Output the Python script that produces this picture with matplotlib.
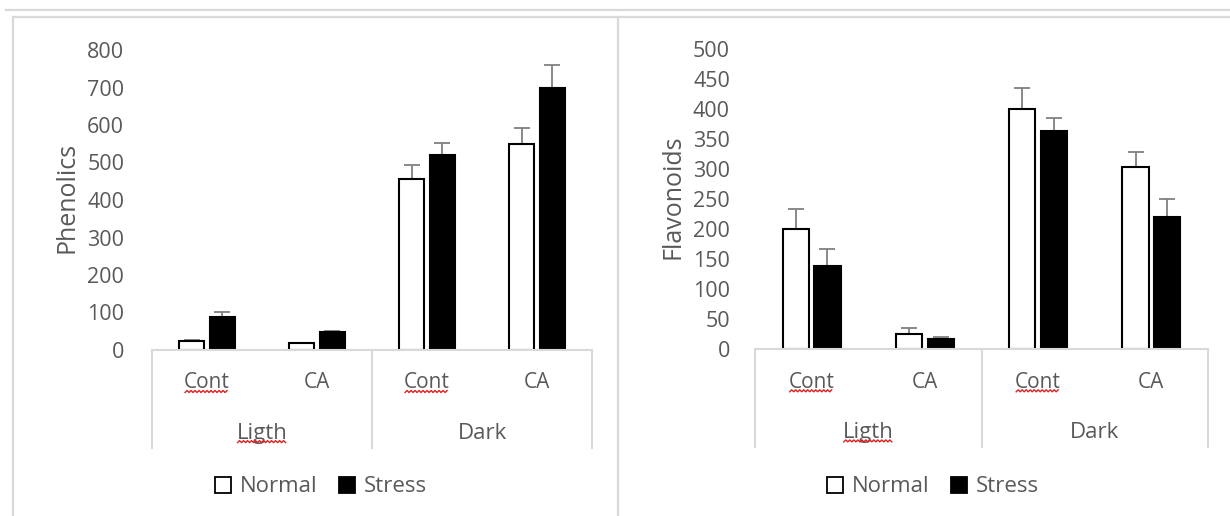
import numpy as np
import matplotlib
matplotlib.use("Agg")
import matplotlib.pyplot as plt
from matplotlib.lines import Line2D
from matplotlib.patches import Patch

# ---------- 数据 ----------
categories = ["Cont", "CA", "Cont", "CA"]
groups = ["Ligth", "Dark"]
series = ["Normal", "Stress"]

phen_normal = [24, 18, 455, 550]
phen_stress = [89, 47, 520, 698]
phen_normal_err = [3, 2, 38, 43]
phen_stress_err = [13, 4, 33, 62]

flav_normal = [201, 26, 400, 304]
flav_stress = [139, 18, 364, 221]
flav_normal_err = [33, 10, 35, 25]
flav_stress_err = [28, 3, 22, 29]

# ---------- 样式 ----------
W, H = 1230, 516
TXT = "#595959"
GRID = "#d9d9d9"
ERR = "#808080"
FS = 15
plt.rcParams["font.family"] = ["Open Sans", "DejaVu Sans"]

fig = plt.figure(figsize=(W / 100, H / 100), dpi=100)


def px(x0, y0, x1, y1):
    """像素坐标 -> figure 坐标 [left, bottom, width, height]"""
    return [x0 / W, 1 - y1 / H, (x1 - x0) / W, (y1 - y0) / H]


def draw_chart(rect, normal, stress, nerr, serr, ymax, ystep, ylabel, ylab_x, pad, box_depth):
    ax = fig.add_axes(rect)
    x = np.arange(len(categories))
    off, bw = 0.14, 0.23
    ax.errorbar(x - off, normal, yerr=[np.zeros(len(x)), nerr], fmt="none",
                ecolor=ERR, elinewidth=1.3, capsize=6, capthick=1.3, zorder=1)
    ax.errorbar(x + off, stress, yerr=[np.zeros(len(x)), serr], fmt="none",
                ecolor=ERR, elinewidth=1.3, capsize=6, capthick=1.3, zorder=1)
    ax.bar(x - off, normal, bw, color="white", edgecolor="black", linewidth=1.5, zorder=2)
    ax.bar(x + off, stress, bw, color="black", edgecolor="black", linewidth=1.5, zorder=2)

    ax.set_xlim(-0.5, len(x) - 0.5)
    ax.set_ylim(0, ymax)
    ax.set_yticks(np.arange(0, ymax + 1, ystep))
    ax.tick_params(axis="y", length=0, pad=pad, labelsize=FS + 0.5, labelcolor=TXT)
    ax.set_xticks([])
    for s in ["top", "right", "left"]:
        ax.spines[s].set_visible(False)
    ax.spines["bottom"].set_color(GRID)
    ax.spines["bottom"].set_linewidth(1.5)

    # 多级分类轴
    for xv in [0, 0.5, 1]:
        ax.plot([xv, xv], [0, -box_depth], color=GRID, lw=1.5,
                transform=ax.transAxes, clip_on=False)
    tr = ax.get_xaxis_transform()
    under = []
    for i, c in enumerate(categories):
        t = ax.text(i, -0.11, c, ha="center", va="center", fontsize=FS, color=TXT, transform=tr)
        if c == "Cont":
            under.append(t)
    for j, g in enumerate(groups):
        t = ax.text(2 * j + 0.5, -0.277, g, ha="center", va="center", fontsize=FS + 1,
                    color=TXT, transform=tr)
        if g == "Ligth":
            under.append(t)
    ax.text(ylab_x, 0.51, ylabel, rotation=90, ha="center", va="center",
            fontsize=18, color=TXT, transform=ax.transAxes)
    return ax, under


ax1, u1 = draw_chart(px(152, 50, 592, 350), phen_normal, phen_stress, phen_normal_err,
                     phen_stress_err, 800, 100, "Phenolics", -0.193, 20, 0.327)
ax2, u2 = draw_chart(px(755, 49.3, 1208, 349.3), flav_normal, flav_stress, flav_normal_err,
                     flav_stress_err, 500, 50, "Flavonoids", -0.181, 18, 0.327)

# 图例
handles = [Patch(facecolor="white", edgecolor="black", linewidth=1.3),
           Patch(facecolor="black", edgecolor="black", linewidth=1.3)]
for cx in [321, 933]:
    fig.legend(handles, series, loc="center", bbox_to_anchor=(cx / W, 1 - 487 / H),
               ncol=2, frameon=False, fontsize=16, labelcolor=TXT, handlelength=0.7,
               handleheight=0.7, handletextpad=0.4, columnspacing=1.0)

# 外框线
frame = [((6, 10), (W, 10)), ((13, 17), (W, 17)), ((13, 17), (13, H)), ((618, 17), (618, H))]
for (xa, ya), (xb, yb) in frame:
    fig.add_artist(Line2D([xa / W, xb / W], [1 - ya / H, 1 - yb / H], color=GRID, lw=1.6,
                          transform=fig.transFigure))

# 拼写检查红色波浪线
fig.canvas.draw()
renderer = fig.canvas.get_renderer()
for t in u1 + u2:
    bb = t.get_window_extent(renderer)
    xs = np.arange(bb.x0 + 1, bb.x1 - 1, 2.0)
    ys = bb.y0 + 1 + np.where(np.arange(len(xs)) % 2 == 0, 0, 2.0)
    fig.add_artist(Line2D(xs / W, ys / H, color="#e02020", lw=1.0, transform=fig.transFigure))

fig.savefig("out.png", dpi=100)
